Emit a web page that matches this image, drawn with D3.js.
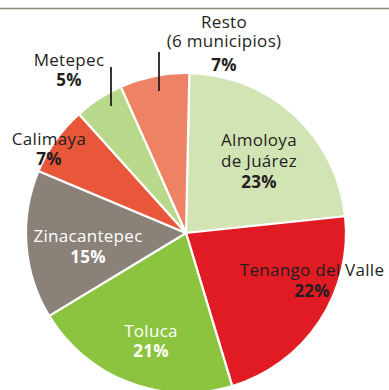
<!DOCTYPE html>
<html>
<head>
<meta charset="utf-8">
<script src="https://cdn.jsdelivr.net/npm/d3@7"></script>
<style>
  html, body { margin: 0; padding: 0; background: #fff; }
  svg { display: block; }
  text { font-family: "Open Sans", sans-serif; }
</style>
</head>
<body>
<svg id="chart" width="389" height="390"></svg>
<script>
// Municipal shares, clockwise from the top of the pie
const municipios = ["Almoloya de Juárez", "Tenango del Valle", "Toluca", "Zinacantepec", "Calimaya", "Metepec", "Resto (6 municipios)"];
const porcentajes = [23, 22, 21, 15, 7, 5, 7];
const etiquetas = [["Almoloya", "de Juárez"], ["Tenango del Valle"], ["Toluca"], ["Zinacantepec"], ["Calimaya"], ["Metepec"], ["Resto", "(6 municipios)"]];
const colores = ["#d3e4b4", "#e11b23", "#8cc43f", "#8a8178", "#e8573a", "#b8d88b", "#ee8264"];

const W = 389, H = 390;
const cx = 186, cy = 233, R = 160;
const start = 1.2 * Math.PI / 180;

const svg = d3.select("#chart");

// rule across the top
svg.append("line")
  .attr("x1", 0).attr("x2", W)
  .attr("y1", 8.5).attr("y2", 8.5)
  .attr("stroke", "#8f8577").attr("stroke-width", 1.6);

const pie = d3.pie().sort(null).value(d => d)
  .startAngle(start).endAngle(start + 2 * Math.PI);
const arc = d3.arc().innerRadius(0).outerRadius(R);
const arcs = pie(porcentajes);

const g = svg.append("g").attr("transform", `translate(${cx},${cy})`);

g.selectAll("path.slice")
  .data(arcs)
  .join("path")
  .attr("class", "slice")
  .attr("d", arc)
  .attr("fill", (d, i) => colores[i])
  .attr("stroke", "#fff")
  .attr("stroke-width", 2.2)
  .attr("stroke-linejoin", "round");

// label placement: offset of the first text baseline from the pie centre
const labelLayout = [
  { dx: 73, dy: -87, step: 21, fill: "#231f20" },
  { dx: 126, dy: 43, step: 21, fill: "#231f20" },
  { dx: -35, dy: 104, step: 20, fill: "#ffffff" },
  { dx: -98, dy: 9, step: 21, fill: "#ffffff" },
  { dx: -137, dy: -88, step: 19.5, fill: "#231f20" },
  { dx: -117, dy: -167, step: 19.5, fill: "#231f20" },
  { dx: 38, dy: -205, step: 19, pctStep: 23.5, fill: "#231f20" }
];

// leader lines for the two thin slices at the top, inside each slice
const leaders = [
  { i: 5, x: -75, y0: -166, y1: -127 },
  { i: 6, x: -27, y0: -181, y1: -142 }
];
g.selectAll("line.leader")
  .data(leaders)
  .join("line")
  .attr("class", "leader")
  .attr("x1", d => d.x).attr("x2", d => d.x)
  .attr("y1", d => d.y0).attr("y2", d => d.y1)
  .attr("stroke", "#231f20").attr("stroke-width", 1.8);

const fontSize = 17, spacing = 0.3;

etiquetas.forEach((lines, i) => {
  const L = labelLayout[i];
  const t = g.append("text")
    .attr("text-anchor", "middle")
    .attr("fill", L.fill)
    .attr("font-size", fontSize)
    .attr("letter-spacing", spacing);
  lines.forEach((s, k) => {
    t.append("tspan")
      .attr("x", L.dx)
      .attr("y", L.dy + k * L.step)
      .attr("font-weight", 400)
      .text(s);
  });
  const pctY = L.dy + (lines.length - 1) * L.step + (L.pctStep || L.step);
  t.append("tspan")
    .attr("x", L.dx)
    .attr("y", pctY)
    .attr("font-weight", 700)
    .text(porcentajes[i] + "%");
});
</script>
</body>
</html>
